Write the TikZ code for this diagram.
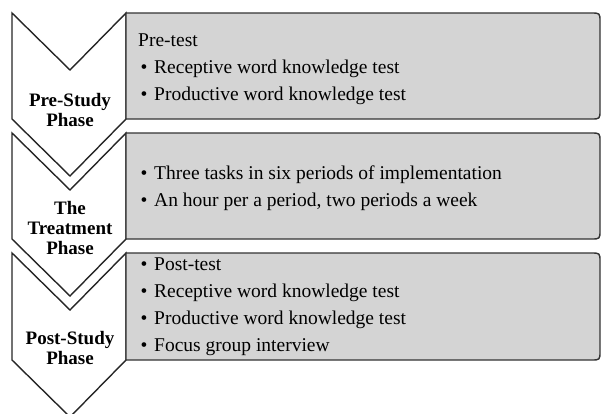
\documentclass[tikz,border=0pt]{standalone}
\usepackage{fontspec}
\setmainfont{Liberation Serif}

\newcommand{\bul}{\makebox[16pt][l]{\hspace{2.5pt}\textbullet}}

\tikzset{
  phase/.style={draw=black!85, fill=white, line width=1.4pt},
  infobox/.style={draw=black!80, fill=black!17, line width=1.4pt},
  phaselabel/.style={font=\fontsize{19}{20}\selectfont\bfseries, align=center, inner sep=0pt},
  infotext/.style={font=\fontsize{19.5}{27}\selectfont, align=left, anchor=west, inner sep=0pt}
}

\begin{document}
\begin{tikzpicture}[x=1pt, y=-1pt]
  \useasboundingbox (0,0) rectangle (601,413);

  % chevrons and boxes, one row per phase
  \foreach \top/\bot in {13/119, 133/239, 253/360} {
    \draw[phase] (12,\top) -- (70,\top+57) -- (126,\top) -- (126,\bot)
      -- (70,\bot+57) -- (12,\bot) -- cycle;
    \draw[infobox] (126,\top) -- (591,\top) .. controls (600,\top) .. (600,\top+9)
      -- (600,\bot-9) .. controls (600,\bot) .. (591,\bot) -- (126,\bot) -- cycle;
  }

  % phase names
  \node[phaselabel] (pre)   at (70,110) {Pre-Study\\Phase};
  \node[phaselabel] (treat) at (70,228) {The\\Treatment\\Phase};
  \node[phaselabel] (post)  at (70,348) {Post-Study\\Phase};

  % box contents
  \node[infotext] (pretext) at (138,69)
    {Pre-test\\\bul Receptive word knowledge test\\\bul Productive word knowledge test};
  \node[infotext] (treattext) at (138,188)
    {\bul Three tasks in six periods of implementation\\\bul An hour per a period, two periods a week};
  \node[infotext] (posttext) at (138,307)
    {\bul Post-test\\\bul Receptive word knowledge test\\\bul Productive word knowledge test\\\bul Focus group interview};
\end{tikzpicture}
\end{document}
